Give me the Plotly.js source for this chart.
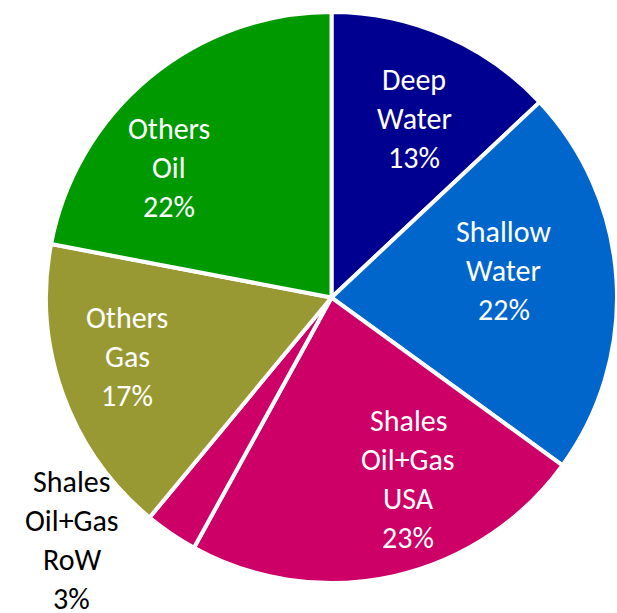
<!DOCTYPE html>
<html><head><meta charset="utf-8">
<script src="https://cdn.plot.ly/plotly-3.0.1.min.js"></script>
<style>html,body{margin:0;padding:0;background:#fff}#chart{width:617px;height:613px}</style>
</head><body><div id="chart"></div>
<script>
// Data
const labels = ["Deep Water", "Shallow Water", "Shales Oil+Gas USA", "Shales Oil+Gas RoW", "Others Gas", "Others Oil"];
const labelLines = [["Deep", "Water"], ["Shallow", "Water"], ["Shales", "Oil+Gas", "USA"], ["Shales", "Oil+Gas", "RoW"], ["Others", "Gas"], ["Others", "Oil"]];
const values = [13, 22, 23, 3, 17, 22];

// Styles
const colors = ["#000090", "#0066CC", "#CC0066", "#CC0066", "#999933", "#009900"];
const textColors = ["#ffffff", "#ffffff", "#ffffff", "#000000", "#ffffff", "#ffffff"];
// label placement: angle offset (deg) from slice mid-angle, radius as fraction of pie radius
const labelAngleOffset = [1.4, -5.4, -10.3, 12.7, 3.7, -11.8];
const labelRadiusFrac = [0.69, 0.61, 0.69, 1.245, 0.745, 0.73];

const W = 617, H = 613;
const dom = {x: [0.0746, 1], y: [0.0481, 0.9812]};
const cx = (dom.x[0] + dom.x[1]) / 2 * W;
const cy = (1 - (dom.y[0] + dom.y[1]) / 2) * H;
const R = Math.min((dom.x[1] - dom.x[0]) * W, (dom.y[1] - dom.y[0]) * H) / 2;
const total = values.reduce((a, b) => a + b, 0);
const FS = 30, LINE = 39;

const annotations = [];
let cum = 0;
values.forEach((v, i) => {
  const mid = (cum + v / 2) / total * 360 + labelAngleOffset[i];
  cum += v;
  const a = mid * Math.PI / 180;
  const r = R * labelRadiusFrac[i];
  const px = cx + r * Math.sin(a);
  const py = cy - r * Math.cos(a);
  const lines = labelLines[i].concat([Math.round(v / total * 100) + "%"]);
  lines.forEach((t, j) => {
    const ly = py + (j - (lines.length - 1) / 2) * LINE;
    annotations.push({
      x: px / W, y: 1 - ly / H, xref: "paper", yref: "paper",
      text: t, showarrow: false, xanchor: "center", yanchor: "middle",
      font: {family: "Carlito, Lato, sans-serif", size: FS, color: textColors[i]}
    });
  });
});

Plotly.newPlot("chart", [{
  type: "pie",
  labels: labels,
  values: values,
  sort: false,
  direction: "clockwise",
  rotation: 0,
  marker: {colors: colors, line: {color: "#ffffff", width: 4}},
  textinfo: "none",
  hoverinfo: "none",
  domain: dom
}], {
  width: W, height: H,
  margin: {l: 0, r: 0, t: 0, b: 0},
  showlegend: false,
  paper_bgcolor: "#fff",
  annotations: annotations
}, {staticPlot: true});
</script></body></html>
